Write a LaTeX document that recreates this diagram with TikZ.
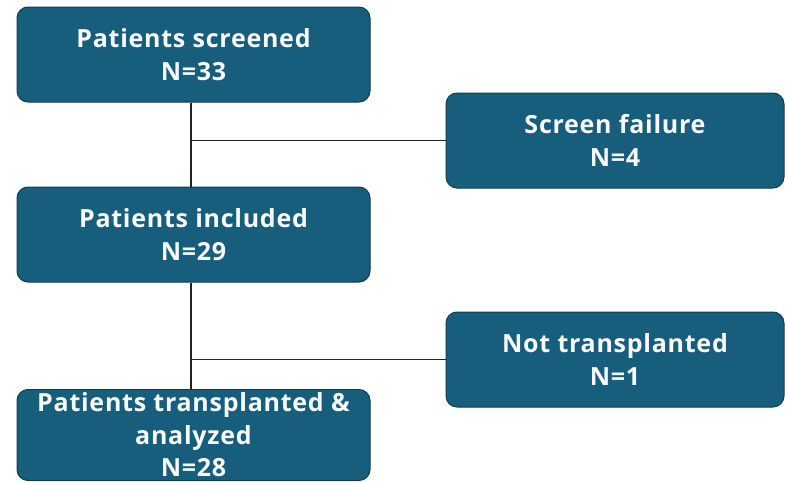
\documentclass[tikz,border=0pt]{standalone}
\usepackage{fontspec}
\setsansfont[LetterSpace=3]{Open Sans}
\definecolor{boxfill}{HTML}{175E7C}
\definecolor{boxline}{HTML}{0E3E52}
\definecolor{linkcol}{HTML}{222222}
\begin{document}
\begin{tikzpicture}[x=1pt,y=-1pt,
  flowbox/.style={draw=boxline, fill=boxfill, line width=1pt, rounded corners=11pt,
    text=white!95!gray, align=center, inner sep=0pt,
    font=\sffamily\bfseries\fontsize{25}{33.5}\selectfont},
  mainbox/.style={flowbox, minimum width=353pt, minimum height=95pt},
  sidebox/.style={flowbox, minimum width=338pt, minimum height=95pt},
  link/.style={draw=linkcol, line width=1.4pt}]
\useasboundingbox (0,0) rectangle (785,482);
\clip (0,0) rectangle (785,482);
\node[mainbox] (b1) at (193.5,54.5) {Patients screened\\N=33};
\node[sidebox] (b2) at (615,140.5) {Screen failure\\N=4};
\node[mainbox] (b3) at (193.5,234.5) {Patients included\\N=29};
\node[sidebox] (b4) at (615,359.5) {Not transplanted\\N=1};
\node[mainbox, minimum height=91pt, font=\sffamily\bfseries\fontsize{25}{32.5}\selectfont] (b5) at (193.5,435) {Patients transplanted \&\\analyzed\\N=28};
\coordinate (j1) at (191,140.5);
\coordinate (j2) at (191,359.5);
\draw[link] (j1 |- b1.south) -- (j1 |- b3.north);
\draw[link] (j1) -- (b2.west);
\draw[link] (j2 |- b3.south) -- (j2 |- b5.north);
\draw[link] (j2) -- (b4.west);
\end{tikzpicture}
\end{document}
